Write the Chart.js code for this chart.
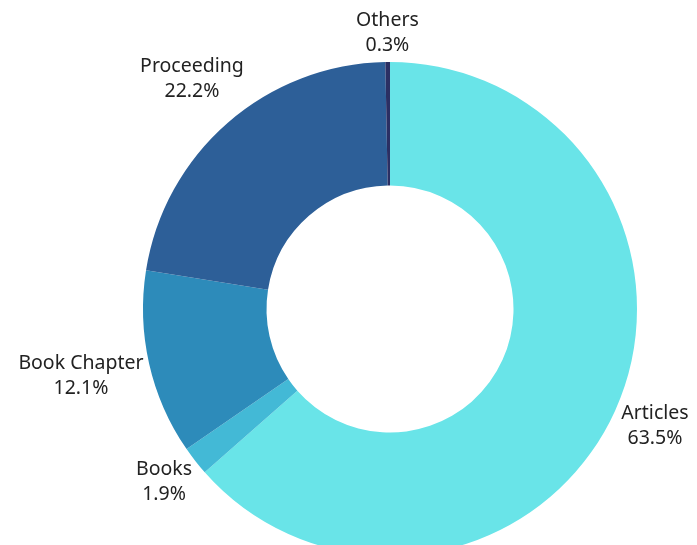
<!DOCTYPE html>
<html>
<head>
<meta charset="utf-8">
<script src="https://cdn.jsdelivr.net/npm/chart.js@4.4.0/dist/chart.umd.min.js"></script>
<style>
  html, body { margin: 0; padding: 0; background: #fff; overflow: hidden; }
  #wrap { width: 697px; height: 620px; position: relative; }
</style>
</head>
<body>
<div id="wrap"><canvas id="myChart"></canvas></div>
<script>
// Publication types and their share (%)
const categories = ['Articles', 'Books', 'Book Chapter', 'Proceeding', 'Others'];
const shares = [63.5, 1.9, 12.1, 22.2, 0.3];
const sliceColors = ['#69e4e8', '#43b9d6', '#2d8bba', '#2d5f98', '#2b2f63'];

// Draw "name / value%" outside each slice, pushed out along the slice's middle ray
const outsideLabels = {
  id: 'outsideLabels',
  afterDatasetsDraw(chart) {
    const c = chart.ctx;
    const meta = chart.getDatasetMeta(0);
    c.save();
    c.font = '19.5px "Noto Sans"';
    c.fillStyle = '#222';
    c.textAlign = 'center';
    c.textBaseline = 'middle';
    const lineH = 25;
    meta.data.forEach(function(arc, i) {
      const p = arc.getProps(['x', 'y', 'startAngle', 'endAngle', 'outerRadius'], true);
      const mid = (p.startAngle + p.endAngle) / 2;
      const dx = Math.cos(mid), dy = Math.sin(mid);
      const name = categories[i];
      const val = shares[i].toFixed(1) + '%';
      const w = Math.max(c.measureText(name).width, c.measureText(val).width);
      const h = 44;
      const dist = p.outerRadius + 4 + Math.abs(dx) * w / 2 + Math.abs(dy) * h / 2;
      const cx = p.x + dist * dx;
      const cy = p.y + dist * dy - 3;
      c.fillText(name, cx, cy - lineH / 2);
      c.fillText(val, cx, cy + lineH / 2);
    });
    c.restore();
  }
};

let ctx = document.getElementById('myChart');
let myChart = new Chart(ctx, {
  type: 'doughnut',
  data: {
    labels: categories,
    datasets: [{
      data: shares,
      backgroundColor: sliceColors,
      borderWidth: 0,
      hoverOffset: 0
    }]
  },
  options: {
    responsive: true,
    maintainAspectRatio: false,
    animation: false,
    cutout: '50%',
    layout: { padding: { top: 62, bottom: 64, left: 143, right: 60 } },
    plugins: {
      legend: { display: false },
      tooltip: { enabled: false }
    }
  },
  plugins: [outsideLabels]
});
</script>
</body>
</html>
